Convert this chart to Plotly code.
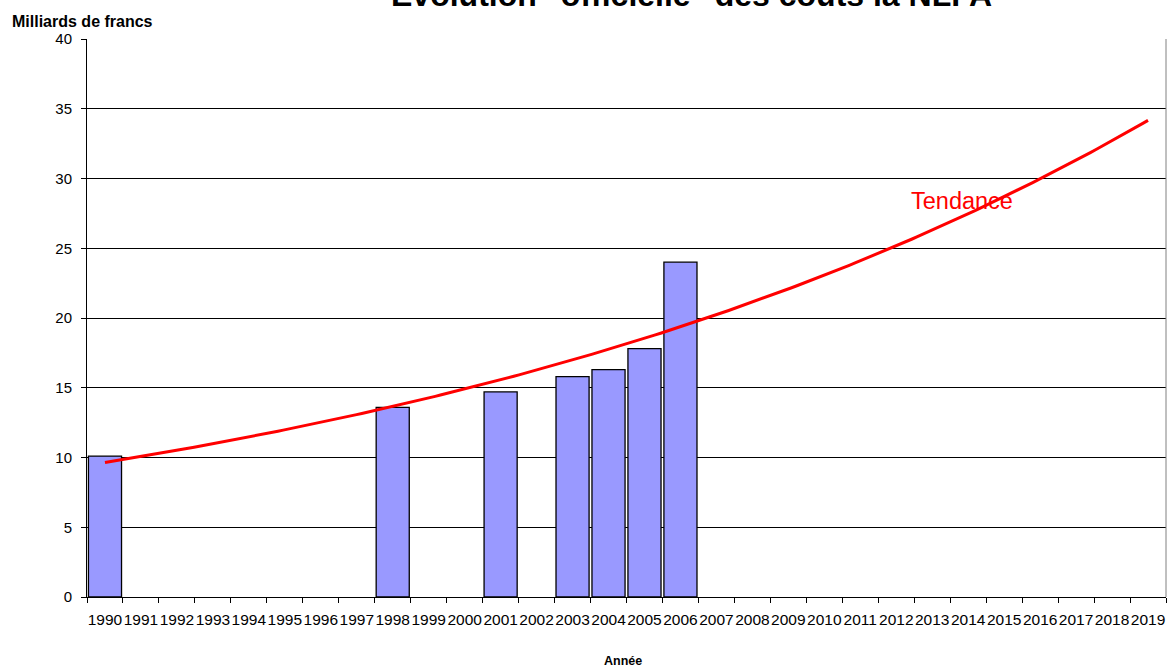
import numpy as np
import plotly.graph_objects as go

years = [str(y) for y in range(1990, 2020)]
bar_years = ["1990", "1998", "2001", "2003", "2004", "2005", "2006"]
bar_values = [10.1, 13.6, 14.7, 15.8, 16.3, 17.8, 24.0]
y_ticks = [0, 5, 10, 15, 20, 25, 30, 35, 40]

# exponential trendline fitted to the bar data (as a spreadsheet trendline would)
xi = np.array([years.index(y) for y in bar_years], dtype=float)
b, a = np.polyfit(xi, np.log(bar_values), 1)
xt = np.linspace(0, len(years) - 1, 200)
yt = np.exp(a + b * xt)

fig = go.Figure()
fig.add_trace(go.Bar(
    x=bar_years, y=bar_values,
    marker=dict(color="#9999FF", line=dict(color="black", width=1.3)),
    xaxis="x", yaxis="y", showlegend=False,
))
fig.add_trace(go.Scatter(
    x=xt, y=yt, mode="lines", line=dict(color="#FF0000", width=3),
    xaxis="x2", yaxis="y", showlegend=False,
))

fig.update_layout(
    width=1167, height=668,
    margin=dict(l=87, r=1, t=39, b=71, autoexpand=False),
    paper_bgcolor="white", plot_bgcolor="white",
    bargap=0.08,
    font=dict(family="Arial, Liberation Sans, sans-serif", color="black"),
    xaxis=dict(
        type="category", categoryorder="array", categoryarray=years,
        tickvals=years, ticktext=years,
        range=[-0.5, len(years) - 0.5],
        tickson="boundaries", ticks="outside", ticklen=5, tickcolor="black",
        showline=True, linecolor="black", linewidth=1,
        showgrid=False, tickfont=dict(size=15.5), tickangle=0,
        ticklabelstandoff=8,
        automargin=False, mirror=False,
    ),
    xaxis2=dict(
        overlaying="x", range=[-0.5, len(years) - 0.5], visible=False,
    ),
    yaxis=dict(
        range=[0, 40], tickvals=y_ticks, ticks="outside", ticklen=5, tickcolor="black",
        showline=True, linecolor="black", linewidth=1,
        showgrid=True, gridcolor="black", gridwidth=1,
        tickfont=dict(size=15), zeroline=False, automargin=False,
        ticklabelstandoff=6,
    ),
    shapes=[dict(type="line", xref="paper", yref="paper", x0=1, x1=1, y0=0, y1=1,
                 line=dict(color="#808080", width=1))],
    annotations=[
        dict(text="<b>Évolution \"officielle\" des coûts la NLFA</b>", xref="paper", yref="paper",
             x=0.56, y=1.0, yshift=24, xanchor="center", yanchor="bottom", showarrow=False,
             font=dict(size=32, color="black")),
        dict(text="<b>Milliards de francs</b>", xref="paper", yref="paper",
             x=0, xshift=-77, y=1, yshift=7, xanchor="left", yanchor="bottom", showarrow=False,
             font=dict(size=16)),
        dict(text="<b>Année</b>", xref="paper", yref="paper",
             x=0.497, y=0, yshift=-55, xanchor="center", yanchor="top", showarrow=False,
             font=dict(size=12.5)),
        dict(text="Tendance", xref="x2", yref="y",
             x=23.83, y=28.4, xanchor="center", yanchor="middle", showarrow=False,
             font=dict(size=23.5, color="#FF0000")),
    ],
)

fig.write_html("out.html")
